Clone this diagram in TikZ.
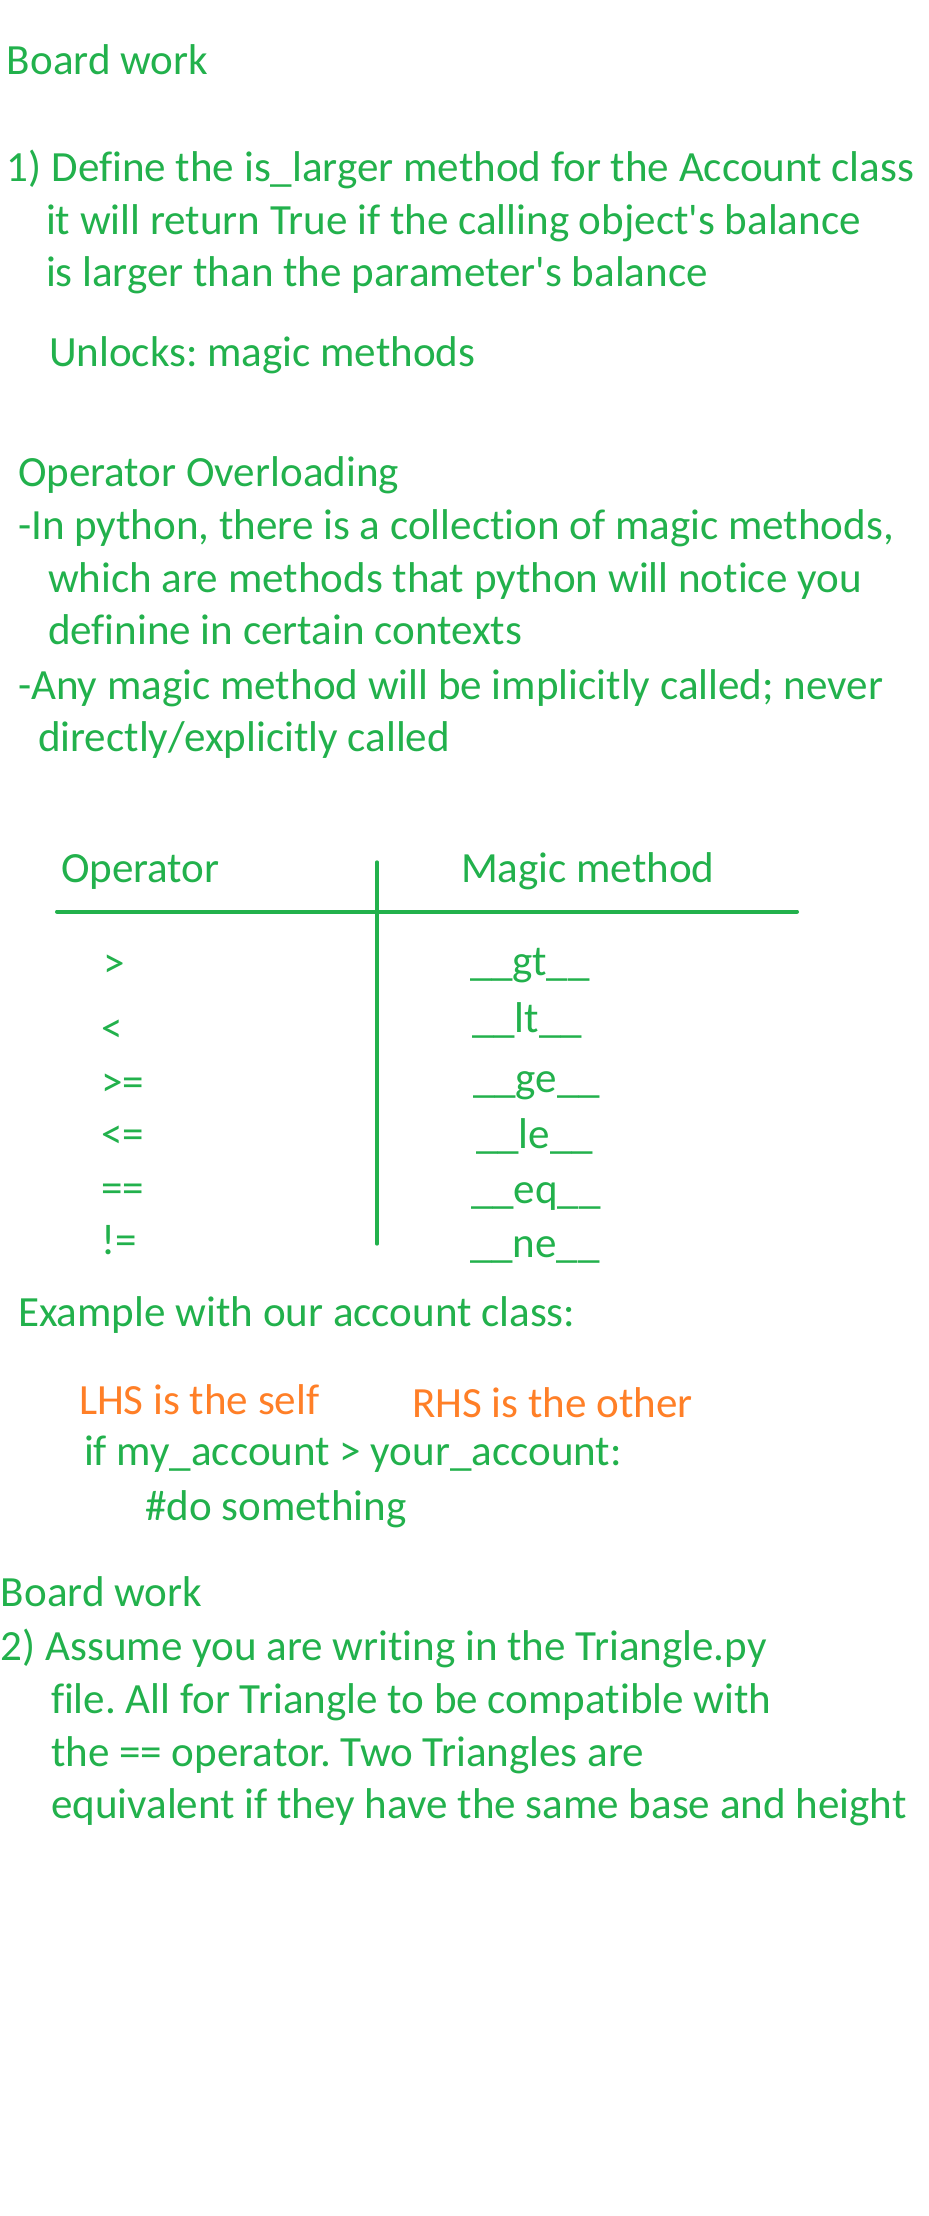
\documentclass[tikz,border=0pt]{standalone}
\usepackage{fontspec}
\setmainfont{Carlito}[Ligatures={NoCommon}]
\frenchspacing
\definecolor{pgreen}{RGB}{34,177,76}
\definecolor{porange}{RGB}{255,127,39}
\begin{document}
\begin{tikzpicture}[x=0.75pt,y=-0.75pt,
  txt/.style={anchor=base west,inner sep=0pt,outer sep=0pt,text=pgreen,font=\fontsize{32.3}{39}\selectfont},
  otxt/.style={txt,text=porange},
  rule/.style={draw=pgreen,line width=3pt,line cap=round}]
\useasboundingbox[fill=white] (0,0) rectangle (928,2216);
\begin{scope}[yscale=1.006]
\node[txt] (bw1) at (7,74.5) {Board work};
\node[txt] (q1a) at (7,180) {1) Define the is\_larger method for the Account class};
\node[txt] (q1b) at (46,233) {it will return True if the calling object\textquotesingle s balance};
\node[txt] (q1c) at (46,285) {is larger than the parameter\textquotesingle s balance};
\node[txt] (unl) at (49,364) {Unlocks: magic methods};
\node[txt] (oo) at (18,484) {Operator Overloading};
\node[txt] (p1a) at (18,536) {-In python, there is a collection of magic methods,};
\node[txt] (p1b) at (48,589) {which are methods that python will notice you};
\node[txt] (p1c) at (48,641) {definine in certain contexts};
\node[txt] (p2a) at (18,695) {-Any magic method will be implicitly called; never};
\node[txt] (p2b) at (38,747) {directly/explicitly called};
% table
\node[txt] (hop) at (61,877) {Operator};
\node[txt] (hmm) at (461,877) {Magic method};
\coordinate (vt) at (377,857);
\coordinate (vb) at (377,1236);
\coordinate (hl) at (57,906);
\coordinate (hr) at (797,906);
\draw[rule] (vt) -- (vb);
\draw[rule] (hl) -- (hr);
\node[txt] (o1) at (103,972) {>};
\node[txt] (o2) at (101,1036) {<};
\node[txt] (o3) at (101,1090) {>=};
\node[txt] (o4) at (101,1142) {<=};
\node[txt] (o5) at (101,1195) {==};
\node[txt] (o6) at (101,1247) {!=};
\node[txt] (m1) at (470,970) {\_\_gt\_\_};
\node[txt] (m2) at (472,1026) {\_\_lt\_\_};
\node[txt] (m3) at (473,1086) {\_\_ge\_\_};
\node[txt] (m4) at (476,1142) {\_\_le\_\_};
\node[txt] (m5) at (471,1196) {\_\_eq\_\_};
\node[txt] (m6) at (470,1250) {\_\_ne\_\_};
% example
\node[txt] (ex) at (18,1319) {Example with our account class:};
\node[otxt] (lhs) at (79,1406) {LHS is the self};
\node[otxt] (rhs) at (412,1409) {RHS is the other};
\node[txt] (if) at (84,1457) {if my\_account > your\_account:};
\node[txt] (do) at (145,1511) {\#do something};
\node[txt] (bw2) at (1,1597) {Board work};
\node[txt] (q2a) at (1,1651) {2) Assume you are writing in the Triangle.py};
\node[txt] (q2b) at (51,1703) {file. All for Triangle to be compatible with};
\node[txt] (q2c) at (51,1756) {the == operator. Two Triangles are};
\node[txt] (q2d) at (51,1808) {equivalent if they have the same base and height};
\end{scope}
\end{tikzpicture}
\end{document}
